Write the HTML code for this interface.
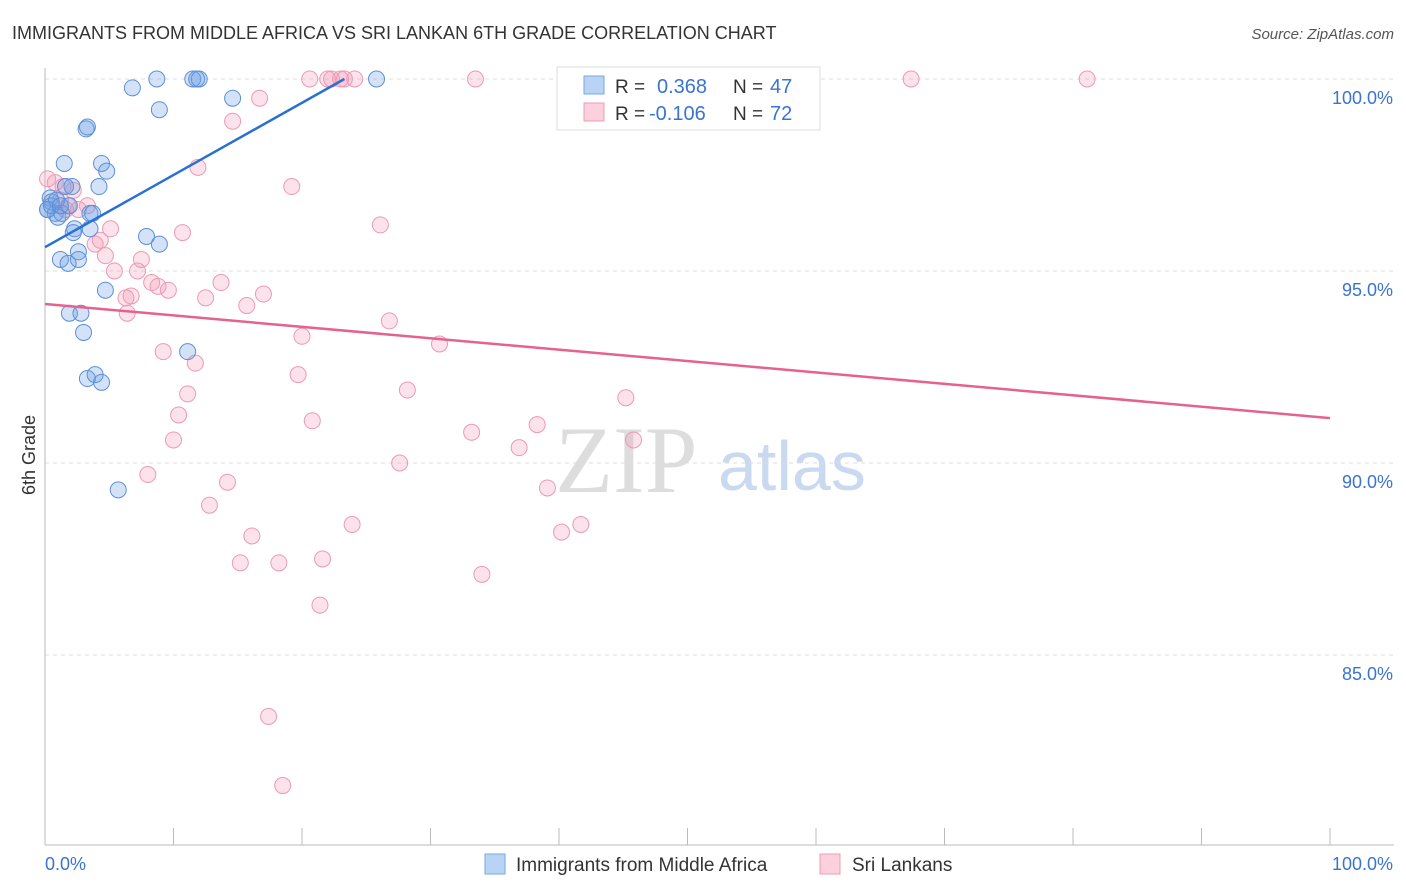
<!DOCTYPE html>
<html><head><meta charset="utf-8"><style>
body{margin:0;background:#fff;font-family:"Liberation Sans",sans-serif;}
svg{display:block}
</style></head><body>
<svg id="chart" width="1406" height="892">
<text x="12" y="39" font-size="18" fill="#333">IMMIGRANTS FROM MIDDLE AFRICA VS SRI LANKAN 6TH GRADE CORRELATION CHART</text>
<text x="1394" y="39" font-size="15" fill="#555" font-style="italic" text-anchor="end">Source: ZipAtlas.com</text>
<text x="35" y="455" font-size="18" fill="#333" text-anchor="middle" transform="rotate(-90 35 455)">6th Grade</text>
<text x="555" y="492" font-size="95" fill="#ddd" font-family="Liberation Serif">ZIP</text>
<text x="718" y="490" font-size="70" fill="#c8d9f0">atlas</text>
<g id="grid"></g><g id="axes"></g><g id="pts"></g><g id="trend"></g>
<g>
<rect x="557" y="67" width="263" height="63" fill="#fff" stroke="#ddd"/>
<rect x="584" y="76" width="20" height="18" fill="#b9d3f5" stroke="#7aa7e0"/>
<rect x="584" y="103" width="20" height="18" fill="#fcd0dd" stroke="#ee9bb5"/>
<text x="615" y="93" font-size="19" fill="#333">R = </text><text x="657" y="93" font-size="20" fill="#3a73d0">0.368</text>
<text x="733" y="93" font-size="19" fill="#333">N = </text><text x="770" y="93" font-size="20" fill="#3a73d0">47</text>
<text x="615" y="120" font-size="19" fill="#333">R = </text><text x="649" y="120" font-size="20" fill="#3a73d0">-0.106</text>
<text x="733" y="120" font-size="19" fill="#333">N = </text><text x="770" y="120" font-size="20" fill="#3a73d0">72</text>
</g>
<g>
<rect x="485" y="854" width="20" height="20" fill="#b9d3f5" stroke="#7aa7e0"/>
<text x="516" y="871" font-size="19" fill="#333">Immigrants from Middle Africa</text>
<rect x="820" y="854" width="20" height="20" fill="#fcd0dd" stroke="#ee9bb5"/>
<text x="852" y="871" font-size="19" fill="#333">Sri Lankans</text>
</g>
</svg>
<script>
const yTicks=[100,95,90,85];
const yTickLabels=["100.0%","95.0%","90.0%","85.0%"];
const xTickLabels=["0.0%","100.0%"];
const blueX=[6.8,8.7,11.5,11.8,12.0,14.6,8.9,25.8,3.2,3.3,1.5,4.4,4.8,2.1,4.2,0.4,0.5,0.2,0.8,1.0,1.3,1.9,3.5,3.7,3.5,2.3,2.2,7.9,8.9,2.6,1.2,1.8,2.6,4.7,1.9,2.8,3.0,11.1,3.3,3.9,4.4,5.7,0.5,0.9,1.6,0.2,1.2];
const blueY=[99.77,100,100,100,100,99.5,99.2,100,98.7,98.75,97.8,97.8,97.6,97.2,97.2,96.9,96.8,96.6,96.5,96.4,96.5,96.7,96.5,96.5,96.1,96.1,96.0,95.9,95.7,95.5,95.3,95.2,95.3,94.5,93.9,93.9,93.4,92.9,92.2,92.3,92.1,89.3,96.7,96.85,97.2,96.6,96.7];
const pinkX=[20.6,22.0,22.3,23.0,23.3,24.1,33.5,67.4,81.1,16.7,14.6,11.9,19.2,0.2,0.8,1.4,2.2,1.2,1.8,2.6,3.3,1.6,26.1,5.1,10.7,4.3,3.9,4.7,7.5,5.4,7.2,8.3,8.8,9.6,13.7,17.0,6.3,6.7,12.5,15.7,6.4,26.8,20.0,30.7,9.2,11.7,19.7,28.2,11.1,45.2,10.4,20.8,38.3,33.2,10.0,45.8,36.9,27.6,8.0,14.2,39.1,12.8,23.9,16.1,41.7,40.2,15.2,18.2,21.6,34.0,21.4,17.4,18.5];
const pinkY=[100,100,100,100,100,100,100,100,100,99.5,98.9,97.7,97.2,97.4,97.3,97.2,97.1,96.85,96.7,96.6,96.7,96.6,96.2,96.1,96.0,95.8,95.7,95.4,95.3,95.0,95.0,94.7,94.6,94.5,94.7,94.4,94.3,94.35,94.3,94.1,93.9,93.7,93.3,93.1,92.9,92.6,92.3,91.9,91.8,91.7,91.25,91.1,91.0,90.8,90.6,90.6,90.4,90.0,89.7,89.5,89.35,88.9,88.4,88.1,88.4,88.2,87.4,87.4,87.5,87.1,86.3,83.4,81.6];
const blueTrend=[95.62,0.188,0,23.3];
const pinkTrend=[94.14,-0.0297,0,100];
const NS="http://www.w3.org/2000/svg";
const X=v=>45+v*12.85, Y=v=>79+(100-v)*38.4;
function mk(p,t,a){const e=document.createElementNS(NS,t);for(const k in a)e.setAttribute(k,a[k]);p.appendChild(e);return e;}
const grid=document.getElementById('grid'),axes=document.getElementById('axes'),pts=document.getElementById('pts'),tr=document.getElementById('trend');
yTicks.forEach((t,i)=>{
 const l=mk(grid,'line',{x1:45,x2:1394,y1:Y(t),y2:Y(t),stroke:'#ddd','stroke-dasharray':'4,4'});
 
 
 const tx=mk(axes,'text',{x:1393,y:Y(t)+25,'font-size':18,fill:'#3a73d0','text-anchor':'end'});tx.textContent=yTickLabels[i];
 
 
});
const ya=mk(axes,'line',{x1:45,x2:45,y1:68,y2:845,stroke:'#bbb'});


const xa=mk(axes,'line',{x1:45,x2:1394,y1:845,y2:845,stroke:'#bbb'});


for(let i=0;i<=10;i++){const t=mk(axes,'line',{x1:X(i*10),x2:X(i*10),y1:828,y2:845,stroke:'#bbb'});
 
 }
[[0,'start',45],[100,'end',1393]].forEach((d,i)=>{const t=mk(axes,'text',{x:d[2],y:870,'font-size':18,fill:'#3a73d0','text-anchor':d[1]});t.textContent=xTickLabels[i];
 
 });
function dots(xs,ys,fill,stroke,name){xs.forEach((x,i)=>{const c=mk(pts,'circle',{cx:X(x),cy:Y(ys[i]),r:8,fill:fill,stroke:stroke,'stroke-width':1});
 
 });}
dots(pinkX,pinkY,'rgba(244,150,180,0.28)','#ec9ab4','sri-lankans-point');
dots(blueX,blueY,'rgba(110,160,230,0.3)','#5d8fd8','middle-africa-point');
function line(t,col,name){const l=mk(tr,'line',{x1:X(t[2]),y1:Y(t[0]+t[1]*t[2]),x2:X(t[3]),y2:Y(t[0]+t[1]*t[3]),stroke:col,'stroke-width':2.5});
 
 }
line(blueTrend,'#2a6fd4','middle-africa-trendline');
line(pinkTrend,'#e5628f','sri-lankans-trendline');
</script>
</body></html>
